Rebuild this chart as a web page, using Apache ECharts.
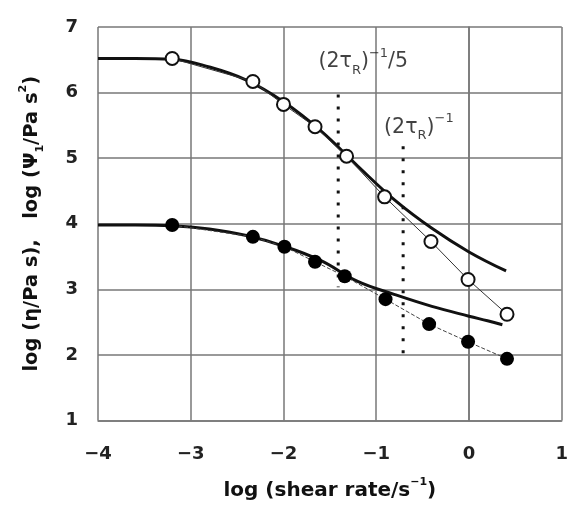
<!DOCTYPE html>
<html>
<head>
<meta charset="utf-8">
<script src="https://cdn.jsdelivr.net/npm/echarts@6/dist/echarts.min.js"></script>
<style>html,body{margin:0;padding:0;background:#fff;}#c{width:571px;height:506px;}</style>
</head>
<body>
<div id="c"></div>
<script>
// Data
const openX = [-3.2, -2.33, -2.0, -1.66, -1.32, -0.91, -0.41, -0.01, 0.41];
const psi1 = [6.52, 6.17, 5.82, 5.48, 5.03, 4.41, 3.73, 3.15, 2.62];
const filledX = [-3.2, -2.33, -1.99, -1.66, -1.34, -0.90, -0.43, -0.01, 0.41];
const eta = [3.98, 3.80, 3.65, 3.42, 3.20, 2.85, 2.47, 2.20, 1.94];
const psiModelX = [-4, -3.6, -3.2, -2.8, -2.4, -2.0, -1.6, -1.2, -0.8, -0.4, 0, 0.4];
const psiModel = [6.52, 6.52, 6.51, 6.39, 6.19, 5.86, 5.42, 4.88, 4.36, 3.93, 3.57, 3.28];
const etaModelX = [-4, -3.6, -3.2, -2.8, -2.4, -2.0, -1.6, -1.2, -0.8, -0.4, 0, 0.2, 0.36];
const etaModel = [3.98, 3.98, 3.97, 3.92, 3.82, 3.66, 3.44, 3.12, 2.92, 2.74, 2.59, 2.52, 2.46];
const markerX = [-1.41, -0.71];
const markerTop = [5.97, 5.18];
const markerBottom = [3.03, 2.02];
const labelX = [-1.14, -0.54];
const labelY = [6.47, 5.47];
const labelText = ['{m|(2τ}{sub|R}{m|)}{sup|−1}{m|/5}', '{m|(2τ}{sub|R}{m|)}{sup|−1}'];
const xTicks = [-4, -3, -2, -1, 0, 1];
const yTicks = [1, 2, 3, 4, 5, 6, 7];

const zip = (a, b) => a.map((v, i) => [v, b[i]]);
const fmt = v => (v < 0 ? '−' + Math.abs(v) : String(v));
const FONT = '"DejaVu Sans", "Liberation Sans", sans-serif';
function richSet(size, small, weight) {
  const lh = Math.round(size * 1.45);
  return {
    m: { fontSize: size, fontWeight: weight, fontFamily: FONT, color: '#111', lineHeight: lh },
    sub: { fontSize: small, fontWeight: weight, fontFamily: FONT, color: '#111', lineHeight: Math.round(small * 1.1), verticalAlign: 'bottom' },
    sup: { fontSize: small, fontWeight: weight, fontFamily: FONT, color: '#111', lineHeight: Math.round(small * 1.1), verticalAlign: 'top' }
  };
}

const series = [];
series.push({ type: 'line', data: zip(psiModelX, psiModel), smooth: 0.4, symbol: 'none',
  lineStyle: { color: '#111', width: 3 }, z: 3 });
series.push({ type: 'line', data: zip(etaModelX, etaModel), smooth: 0.4, symbol: 'none',
  lineStyle: { color: '#111', width: 3 }, z: 3 });
series.push({ type: 'line', data: zip(openX, psi1), symbol: 'circle', symbolSize: 13,
  itemStyle: { color: '#fff', borderColor: '#111', borderWidth: 2 },
  lineStyle: { color: '#333', width: 1 }, z: 5 });
series.push({ type: 'line', data: zip(filledX, eta), symbol: 'circle', symbolSize: 14,
  itemStyle: { color: '#000', borderColor: '#000', borderWidth: 0 },
  lineStyle: { color: '#444', width: 1, type: [4, 2] }, z: 5 });
markerX.forEach((x, i) => {
  series.push({ type: 'line', data: [[x, markerTop[i]], [x, markerBottom[i]]], symbol: 'none',
    lineStyle: { color: '#111', width: 3, type: [3, 9] }, z: 2 });
});
series.push({ type: 'scatter', symbolSize: 0, z: 6,
  data: labelX.map((x, i) => ({ value: [x, labelY[i]], label: { show: true, position: 'inside', color: '#111', formatter: labelText[i], rich: richSet(20.5, 13, 'normal') } })) });

const chart = echarts.init(document.getElementById('c'), null, { renderer: 'canvas' });
chart.setOption({
  animation: false,
  backgroundColor: '#fff',
  grid: { left: 98, right: 4, top: 27, bottom: 83, show: false },
  xAxis: {
    type: 'value', min: xTicks[0], max: xTicks[xTicks.length - 1], interval: 1,
    axisLine: { show: true, lineStyle: { color: '#777', width: 1.5 } },
    axisTick: { show: false },
    splitLine: { show: true, lineStyle: { color: '#777', width: 1.5 } },
    axisLabel: { formatter: fmt, fontSize: 18, fontWeight: 'bold', color: '#222', fontFamily: FONT, margin: 25 },
    name: '{m|log (shear rate/s}{sup|−1}{m|)}',
    nameLocation: 'middle', nameGap: 56,
    nameTextStyle: { rich: richSet(20, 11, 'bold') }
  },
  yAxis: {
    type: 'value', min: yTicks[0], max: yTicks[yTicks.length - 1], interval: 1,
    axisLine: { show: true, lineStyle: { color: '#777', width: 1.5 } },
    axisTick: { show: false },
    splitLine: { show: true, lineStyle: { color: '#777', width: 1.5 } },
    axisLabel: { fontSize: 18, fontWeight: 'bold', color: '#222', fontFamily: FONT, margin: 20 },
    name: '{m|log (η/Pa s),   log (Ψ}{sub|1}{m|/Pa s}{sup|2}{m|)}',
    nameLocation: 'middle', nameGap: 52,
    nameTextStyle: { rich: richSet(19.5, 11, 'bold') }
  },
  series: series
});
</script>
</body>
</html>
